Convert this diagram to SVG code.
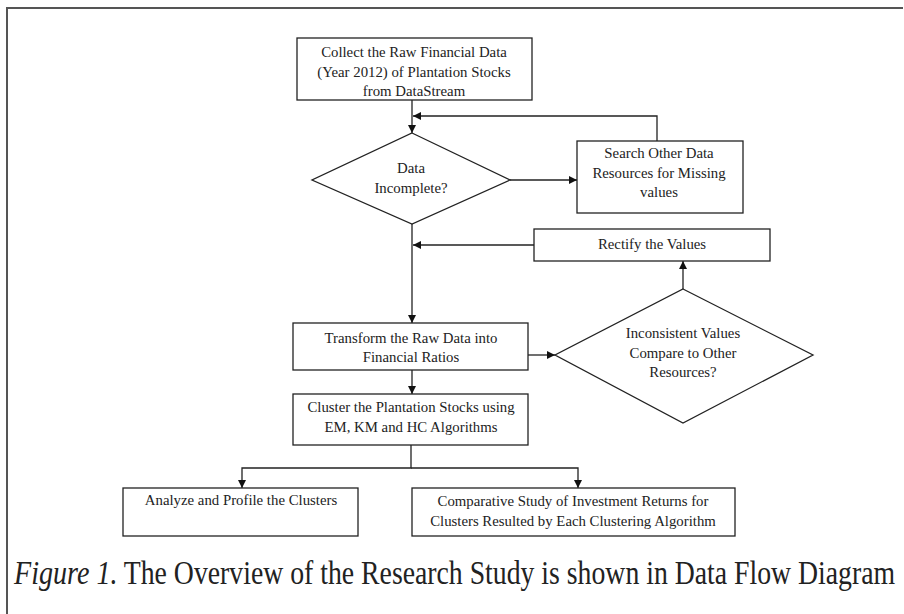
<svg xmlns="http://www.w3.org/2000/svg" width="904" height="614" viewBox="0 0 904 614">
<style>
.box{fill:#fff;stroke:#222;stroke-width:1.3}
.t{font-family:"Liberation Serif","Times New Roman",serif;font-size:14.8px;fill:#222;text-anchor:middle}
.c{fill:none;stroke:#222;stroke-width:1.3}
.cap{font-family:"Liberation Serif","Times New Roman",serif;font-size:30px;fill:#222}
</style>
<defs>
<marker id="ah" viewBox="0 0 10 10" refX="10" refY="5" markerWidth="8" markerHeight="8" markerUnits="userSpaceOnUse" orient="auto">
<path d="M0,0 L10,5 L0,10 z" fill="#111"/>
</marker>
</defs>
<rect width="904" height="614" fill="#fff"/>
<path d="M7,614 V8 H903" fill="none" stroke="#555" stroke-width="2"/>

<g id="connectors">
<line class="c" x1="412" y1="100" x2="412" y2="133" marker-end="url(#ah)"/>
<polyline class="c" points="657,141 657,116 413,116" marker-end="url(#ah)"/>
<line class="c" x1="510" y1="180" x2="577" y2="180" marker-end="url(#ah)"/>
<line class="c" x1="412" y1="224" x2="412" y2="323" marker-end="url(#ah)"/>
<line class="c" x1="534" y1="245" x2="413" y2="245" marker-end="url(#ah)"/>
<line class="c" x1="683" y1="289" x2="683" y2="261" marker-end="url(#ah)"/>
<line class="c" x1="528" y1="355" x2="555" y2="355" marker-end="url(#ah)"/>
<line class="c" x1="412" y1="370" x2="412" y2="394" marker-end="url(#ah)"/>
<polyline class="c" points="411,445 411,468 242,468 242,488" marker-end="url(#ah)"/>
<polyline class="c" points="411,468 578,468 578,488" marker-end="url(#ah)"/>
</g>

<g id="collect">
<rect class="box" x="297" y="38" width="235" height="62"/>
<text class="t" x="414" y="57">Collect the Raw Financial Data</text>
<text class="t" x="414" y="77">(Year 2012) of Plantation Stocks</text>
<text class="t" x="414" y="96">from DataStream</text>
</g>

<g id="incomplete">
<polygon class="box" points="412,133 510,180 412,224 312,180"/>
<text class="t" x="411" y="173">Data</text>
<text class="t" x="411" y="193">Incomplete?</text>
</g>

<g id="search">
<rect class="box" x="577" y="141" width="166" height="72"/>
<text class="t" x="659" y="158">Search Other Data</text>
<text class="t" x="659" y="178">Resources for Missing</text>
<text class="t" x="659" y="197">values</text>
</g>

<g id="rectify">
<rect class="box" x="534" y="229" width="236" height="32"/>
<text class="t" x="652" y="249">Rectify the Values</text>
</g>

<g id="inconsistent">
<polygon class="box" points="683,289 813,355 683,423 555,355"/>
<text class="t" x="683" y="338">Inconsistent Values</text>
<text class="t" x="683" y="358">Compare to Other</text>
<text class="t" x="683" y="377">Resources?</text>
</g>

<g id="transform">
<rect class="box" x="293" y="323" width="235" height="47"/>
<text class="t" x="411" y="343">Transform the Raw Data into</text>
<text class="t" x="411" y="362">Financial Ratios</text>
</g>

<g id="cluster">
<rect class="box" x="293" y="394" width="235" height="51"/>
<text class="t" x="411" y="412">Cluster the Plantation Stocks using</text>
<text class="t" x="411" y="432">EM, KM and HC Algorithms</text>
</g>

<g id="analyze">
<rect class="box" x="123" y="488" width="235" height="48"/>
<text class="t" x="241" y="505">Analyze and Profile the Clusters</text>
</g>

<g id="comparative">
<rect class="box" x="412" y="488" width="323" height="48"/>
<text class="t" x="573" y="506">Comparative Study of Investment Returns for</text>
<text class="t" x="573" y="526">Clusters Resulted by Each Clustering Algorithm</text>
</g>

<g id="caption" transform="translate(14,584) scale(0.9,1.1)">
<text class="cap" x="0" y="0" font-style="italic" textLength="115" lengthAdjust="spacingAndGlyphs">Figure 1.</text>
<text class="cap" x="122" y="0" textLength="857" lengthAdjust="spacingAndGlyphs">The Overview of the Research Study is shown in Data Flow Diagram</text>
</g>
</svg>
